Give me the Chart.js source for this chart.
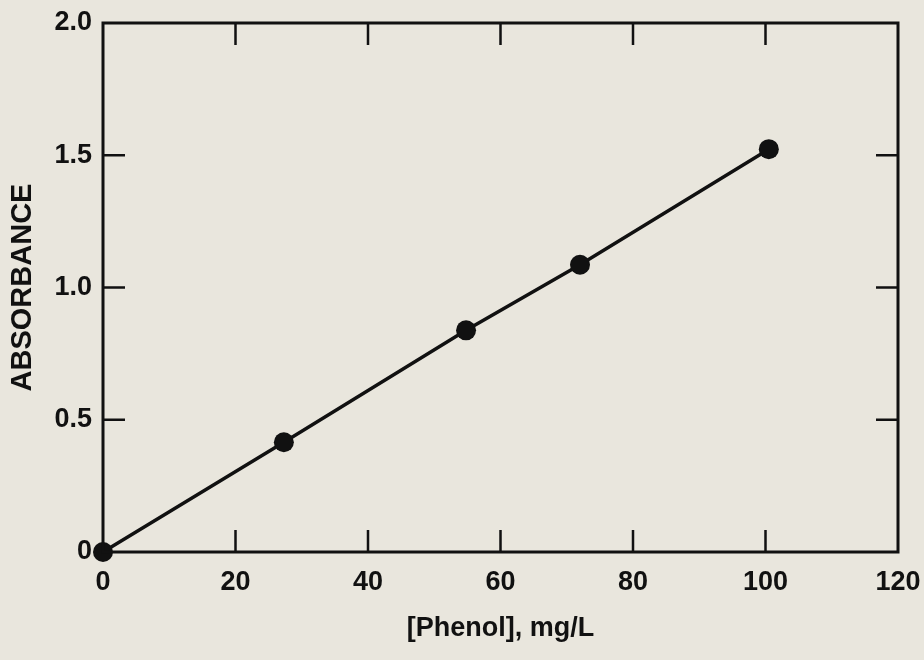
<!DOCTYPE html>
<html>
<head>
<meta charset="utf-8">
<script src="https://cdn.jsdelivr.net/npm/chart.js@4"></script>
<style>
  html, body { margin: 0; padding: 0; background: #e9e6dd; }
  #wrap { width: 924px; height: 660px; }
</style>
</head>
<body>
<div id="wrap"><canvas id="chart" width="924" height="660"></canvas></div>
<script>
// ----- data -----
const phenol = [0, 27.3, 54.8, 72.0, 100.5];        // mg/L
const absorbance = [0, 0.415, 0.838, 1.086, 1.523];
const xTicks = [20, 40, 60, 80, 100];                // inner tick marks
const yTicks = [0.5, 1.0, 1.5];

const INK = "#111111";
const FONT = "'Liberation Sans', Arial, Helvetica, sans-serif";

// frame + inward tick marks on all four sides
const framePlugin = {
  id: "frame",
  afterDatasetsDraw(chart) {
    const { ctx, chartArea: a, scales: { x, y } } = chart;
    const len = 22;
    ctx.save();
    ctx.strokeStyle = INK;
    ctx.lineWidth = 3;
    ctx.strokeRect(a.left, a.top, a.right - a.left, a.bottom - a.top);
    ctx.lineWidth = 2.5;
    ctx.beginPath();
    xTicks.forEach(v => {
      const px = x.getPixelForValue(v);
      ctx.moveTo(px, a.bottom); ctx.lineTo(px, a.bottom - len);
      ctx.moveTo(px, a.top); ctx.lineTo(px, a.top + len);
    });
    yTicks.forEach(v => {
      const py = y.getPixelForValue(v);
      ctx.moveTo(a.left, py); ctx.lineTo(a.left + len, py);
      ctx.moveTo(a.right, py); ctx.lineTo(a.right - len, py);
    });
    ctx.stroke();
    ctx.restore();
  }
};

new Chart(document.getElementById("chart"), {
  type: "scatter",
  data: {
    datasets: [{
      data: phenol.map((v, i) => ({ x: v, y: absorbance[i] })),
      showLine: true,
      borderColor: INK,
      borderWidth: 3.5,
      backgroundColor: INK,
      pointRadius: 10,
      pointBorderWidth: 0,
      clip: false
    }]
  },
  options: {
    responsive: false,
    animation: false,
    layout: { padding: { left: 0, right: 26, top: 23, bottom: 0 } },
    plugins: { legend: { display: false }, tooltip: { enabled: false } },
    scales: {
      x: {
        type: "linear",
        min: 0, max: 120,
        grid: { display: false, drawTicks: false },
        border: { display: false },
        ticks: {
          stepSize: 20, padding: 14, color: INK,
          font: { family: FONT, size: 27, weight: "bold" }
        },
        title: {
          display: true, text: "[Phenol], mg/L", color: INK,
          font: { family: FONT, size: 27, weight: "bold" },
          padding: { top: 0, bottom: 15 }
        },
        afterFit(s) { s.height = 108; s.paddingLeft = 0; s.paddingRight = 0; }
      },
      y: {
        type: "linear",
        min: 0, max: 2,
        grid: { display: false, drawTicks: false },
        border: { display: false },
        ticks: {
          stepSize: 0.5, padding: 11, color: INK,
          font: { family: FONT, size: 27, weight: "bold" },
          callback: v => v === 0 ? "0" : v.toFixed(1)
        },
        title: {
          display: true, text: "ABSORBANCE", color: INK,
          font: { family: FONT, size: 29, weight: "bold" },
          padding: { top: 6, bottom: 0 }
        },
        afterFit(s) { s.width = 103; s.paddingTop = 0; s.paddingBottom = 0; }
      }
    }
  },
  plugins: [framePlugin]
});
</script>
</body>
</html>
